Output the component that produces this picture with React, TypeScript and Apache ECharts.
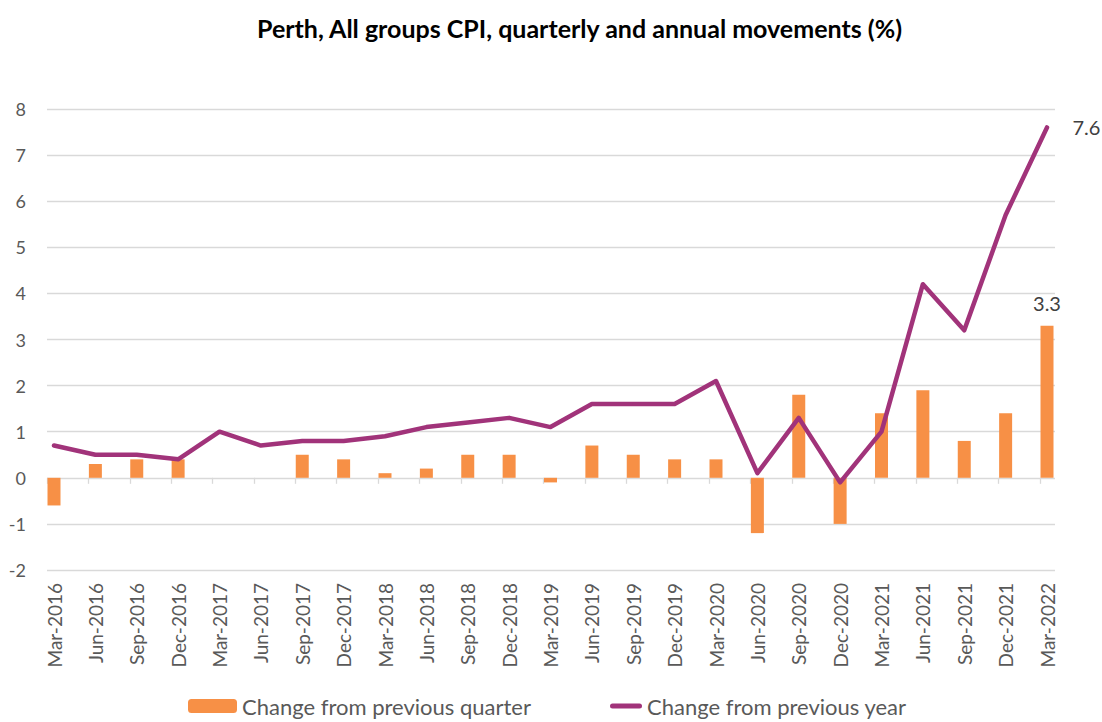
import React, { useEffect, useRef } from "react";
import * as echarts from "echarts";

const categories = [
  "Mar-2016", "Jun-2016", "Sep-2016", "Dec-2016",
  "Mar-2017", "Jun-2017", "Sep-2017", "Dec-2017",
  "Mar-2018", "Jun-2018", "Sep-2018", "Dec-2018",
  "Mar-2019", "Jun-2019", "Sep-2019", "Dec-2019",
  "Mar-2020", "Jun-2020", "Sep-2020", "Dec-2020",
  "Mar-2021", "Jun-2021", "Sep-2021", "Dec-2021",
  "Mar-2022",
];

const quarterly = [
  -0.6, 0.3, 0.4, 0.4,
  0.0, 0.0, 0.5, 0.4,
  0.1, 0.2, 0.5, 0.5,
  -0.1, 0.7, 0.5, 0.4,
  0.4, -1.2, 1.8, -1.0,
  1.4, 1.9, 0.8, 1.4,
  3.3,
];

const annual = [
  0.7, 0.5, 0.5, 0.4,
  1.0, 0.7, 0.8, 0.8,
  0.9, 1.1, 1.2, 1.3,
  1.1, 1.6, 1.6, 1.6,
  2.1, 0.1, 1.3, -0.1,
  1.0, 4.2, 3.2, 5.7,
  7.6,
];

const yTicks = { min: -2, max: 8, interval: 1 };

const TITLE = "Perth, All groups CPI, quarterly and annual movements (%)";
const BAR_NAME = "Change from previous quarter";
const LINE_NAME = "Change from previous year";

const FONT = "Lato, 'Open Sans', sans-serif";
const BAR_COLOR = "#F79046";
const LINE_COLOR = "#A1337A";
const GRID_COLOR = "#D9D9D9";
const TEXT_COLOR = "#595959";

export default function App() {
  const ref = useRef<HTMLDivElement>(null);

  useEffect(() => {
    if (!ref.current) return;
    const chart = echarts.init(ref.current, undefined, { renderer: "svg" });
    const last = categories.length - 1;

    const option: any = {
      animation: false,
      backgroundColor: "#ffffff",
      title: {
        text: TITLE,
        left: 257,
        top: 15,
        padding: 0,
        textStyle: {
          fontFamily: FONT,
          fontWeight: "bold",
          fontSize: 25,
          color: "#000000",
        },
      },
      legend: [
        {
          data: [BAR_NAME],
          left: 188,
          top: 695,
          padding: 0,
          itemWidth: 49,
          itemHeight: 14,
          itemGap: 5,
          textStyle: { fontFamily: FONT, fontSize: 22, color: TEXT_COLOR },
        },
        {
          data: [
            {
              name: LINE_NAME,
              icon: "path://M2.5,0 H29.5 A2.5,2.5 0 0 1 29.5,5 H2.5 A2.5,2.5 0 0 1 2.5,0 Z",
            },
          ],
          left: 610,
          top: 695,
          padding: 0,
          itemWidth: 32,
          itemHeight: 5,
          itemGap: 3,
          textStyle: { fontFamily: FONT, fontSize: 22, color: TEXT_COLOR },
        },
      ],
      grid: [
        { left: 47, right: 47, top: 109, bottom: 152 },
        { left: 47, right: 62, top: 109, bottom: 152 },
        { left: 54, right: 55, top: 109, bottom: 152 },
      ],
      xAxis: [
        { gridIndex: 0, type: "value", min: 0, max: 1, show: false },
        {
          gridIndex: 1,
          type: "value",
          min: 0,
          max: 24,
          interval: 1,
          axisLine: { show: false, onZero: true },
          axisTick: { show: true, length: 6, lineStyle: { color: GRID_COLOR, width: 1.3 } },
          axisLabel: { show: false },
          splitLine: { show: false },
        },
        {
          gridIndex: 2,
          type: "category",
          data: categories,
          boundaryGap: false,
          axisLine: { show: false, onZero: false },
          axisTick: { show: false },
          splitLine: { show: false },
          axisLabel: {
            interval: 0,
            rotate: 90,
            margin: 13,
            fontFamily: FONT,
            fontSize: 19,
            color: TEXT_COLOR,
          },
        },
      ],
      yAxis: [
        {
          gridIndex: 0,
          type: "value",
          min: yTicks.min,
          max: yTicks.max,
          interval: yTicks.interval,
          axisLine: { show: false },
          axisTick: { show: false },
          splitLine: { show: true, lineStyle: { color: GRID_COLOR, width: 1.3 } },
          axisLabel: {
            margin: 21,
            fontFamily: FONT,
            fontSize: 18,
            color: TEXT_COLOR,
          },
        },
        {
          gridIndex: 1,
          type: "value",
          min: yTicks.min,
          max: yTicks.max,
          show: false,
          splitLine: { show: false },
        },
        {
          gridIndex: 2,
          type: "value",
          min: yTicks.min,
          max: yTicks.max,
          show: false,
          splitLine: { show: false },
        },
      ],
      series: [
        {
          name: BAR_NAME,
          type: "bar",
          xAxisIndex: 2,
          yAxisIndex: 2,
          barWidth: 13,
          itemStyle: { color: BAR_COLOR },
          data: quarterly.map((v, i) =>
            i === last
              ? {
                  value: v,
                  label: {
                    show: true,
                    position: "top",
                    distance: 13,
                    fontFamily: FONT,
                    fontSize: 20,
                    color: "#404040",
                  },
                }
              : v
          ),
        },
        {
          name: LINE_NAME,
          type: "line",
          xAxisIndex: 2,
          yAxisIndex: 2,
          symbol: "circle",
          symbolSize: 1,
          showSymbol: true,
          lineStyle: { color: LINE_COLOR, width: 4.5, cap: "round", join: "round" },
          itemStyle: { color: LINE_COLOR },
          data: annual.map((v, i) =>
            i === last
              ? {
                  value: v,
                  label: {
                    show: true,
                    position: "right",
                    distance: 25,
                    fontFamily: FONT,
                    fontSize: 20,
                    color: "#404040",
                  },
                }
              : v
          ),
        },
      ],
    };

    chart.setOption(option);
    return () => chart.dispose();
  }, []);

  return (
    <div
      ref={ref}
      style={{ position: "fixed", left: 0, top: 0, width: 1102, height: 722 }}
    />
  );
}
